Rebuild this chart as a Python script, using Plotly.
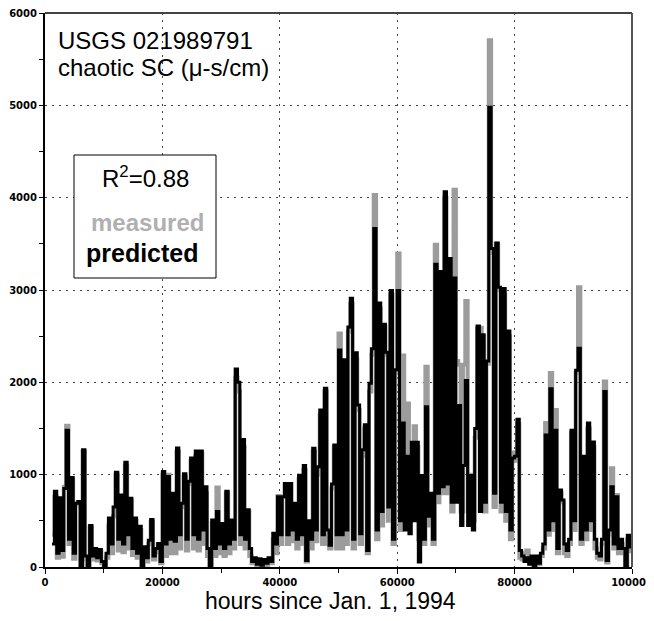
import plotly.graph_objects as go

# hours since Jan. 1, 1994 (sampled every 400 h)
hours = list(range(1200, 99700, 400))

predicted = [
    # 1200 - 9600
    250, 820, 150, 750, 180, 850, 1480, 300, 970, 150, 690, 710, 0, 1270, 120, 0, 450, 120, 200, 100, 190, 60,
    # 10000 - 19600
    0, 150, 530, 250, 650, 1025, 300, 780, 250, 1135, 350, 745, 200, 530, 150, 440, 0, 220, 100, 290, 515, 120, 200, 255, 60,
    # 20000 - 29600
    1035, 250, 980, 300, 800, 280, 1290, 350, 690, 1010, 300, 930, 1180, 350, 1255, 300, 1255, 400, 870, 200, 0, 510, 200, 600, 250,
    # 30000 - 39600
    470, 200, 820, 250, 510, 300, 2145, 2000, 350, 1380, 300, 620, 200, 60, 100, 30, 90, 20, 80, 40, 100, 60, 365, 250, 760,
    # 40000 - 49600
    350, 760, 905, 350, 905, 400, 690, 300, 995, 350, 1100, 70, 500, 300, 1285, 400, 1085, 1700, 350, 1935, 400, 235, 900, 1320, 350,
    # 50000 - 59600
    2350, 350, 2245, 400, 2600, 2910, 300, 2320, 1755, 360, 1270, 1540, 180, 1990, 2365, 3665, 400, 2860, 600, 2630, 2325, 650, 2995, 300, 2135,
    # 60000 - 69600
    2995, 500, 1560, 400, 1200, 360, 1350, 500, 1350, 55, 990, 300, 1735, 550, 800, 300, 3280, 800, 3200, 870, 4065, 900, 3340, 700, 3130,
    # 70000 - 79600
    700, 1750, 450, 1100, 2020, 450, 990, 400, 1500, 2610, 600, 2515, 700, 2230, 4980, 3450, 800, 3510, 3030, 700, 3015, 600, 2555, 400, 1180,
    # 80000 - 89600
    1200, 1600, 180, 120, 60, 100, 30, 120, 0, 120, 40, 150, 250, 1430, 400, 1930, 500, 1480, 200, 835, 725, 250, 180, 300, 1480,
    # 90000 - 99600
    500, 2130, 2370, 300, 1200, 400, 1560, 500, 1355, 300, 150, 120, 300, 1900, 70, 400, 870, 250, 760, 200, 300, 200, 0, 345, 200,
]

measured = [
    # 1200 - 9600
    350, 760, 100, 700, 110, 870, 1530, 250, 950, 90, 680, 700, 0, 1250, 80, 0, 430, 80, 180, 70, 170, 40,
    # 10000 - 19600
    0, 100, 450, 150, 550, 1000, 180, 700, 160, 1100, 200, 720, 130, 500, 100, 400, 0, 180, 60, 250, 490, 80, 160, 240, 40,
    # 20000 - 29600
    1000, 120, 1000, 150, 780, 150, 1250, 200, 650, 980, 180, 900, 1150, 200, 1200, 180, 1230, 250, 800, 120, 0, 480, 120, 860, 150,
    # 30000 - 39600
    420, 120, 800, 150, 450, 200, 2050, 1900, 250, 1300, 200, 600, 120, 40, 60, 10, 50, 0, 60, 20, 80, 40, 300, 150, 770,
    # 40000 - 49600
    250, 760, 900, 250, 900, 280, 650, 200, 950, 250, 1050, 60, 400, 200, 1250, 280, 1000, 1650, 250, 1900, 250, 200, 850, 1300, 200,
    # 50000 - 59600
    2530, 200, 2200, 250, 2550, 2850, 200, 2250, 1700, 250, 1200, 1500, 150, 1900, 2300, 4030, 300, 2800, 450, 2600, 2300, 500, 2950, 250, 2100,
    # 60000 - 69600
    3395, 400, 2290, 500, 1770, 500, 1300, 1525, 1300, 300, 900, 250, 2170, 450, 700, 250, 3490, 700, 3150, 800, 4000, 800, 3300, 600, 4085,
    # 70000 - 79600
    2230, 2190, 600, 2190, 2880, 600, 1000, 500, 1400, 2580, 2590, 2500, 600, 2200, 5705, 3400, 650, 3500, 3000, 600, 2950, 500, 2500, 300, 1240,
    # 80000 - 89600
    1150, 1550, 100, 80, 150, 180, 60, 80, 0, 100, 30, 120, 200, 1560, 350, 2100, 400, 1700, 150, 800, 700, 150, 120, 250, 1450,
    # 90000 - 99600
    400, 2100, 3030, 250, 1150, 300, 1500, 400, 1300, 200, 100, 80, 250, 2010, 50, 350, 1070, 200, 780, 150, 250, 150, 0, 300, 150,
]

x_ticks = [0, 20000, 40000, 60000, 80000, 100000]
y_ticks = [0, 1000, 2000, 3000, 4000, 5000, 6000]

fig = go.Figure()
fig.add_trace(go.Scatter(x=hours, y=measured, mode="lines", line=dict(color="#9c9c9c", width=4, shape="hv"),
                         name="measured", hoverinfo="skip"))
fig.add_trace(go.Scatter(x=hours, y=predicted, mode="lines", line=dict(color="#000000", width=3, shape="hv"),
                         name="predicted", hoverinfo="skip"))

common = dict(showgrid=True, gridcolor="#444444", griddash="2px,5px", gridwidth=1,
              showline=True, linecolor="black", linewidth=2, ticks="outside",
              tickcolor="black", tickwidth=1, zeroline=False, automargin=False,
              ticklabeloverflow="allow")
fig.update_xaxes(range=[0, 100000], tickvals=x_ticks, ticktext=[str(v) for v in x_ticks], ticklen=5,
                 tickfont=dict(family="DejaVu Sans", size=10, color="black", weight="bold"),
                 minor=dict(dtick=10000, ticks="outside", ticklen=4, tickcolor="black", showgrid=False),
                 **common)
fig.update_yaxes(range=[0, 6000], tickvals=y_ticks, ticktext=[str(v) for v in y_ticks], ticklen=4,
                 tickfont=dict(family="DejaVu Sans", size=10, color="black", weight="bold"),
                 minor=dict(dtick=500, ticks="outside", ticklen=4, tickcolor="black", showgrid=False),
                 **common)

# top / right frame in dark gray
fig.add_shape(type="line", xref="paper", yref="paper", x0=0, x1=1, y0=1, y1=1,
              line=dict(color="#444444", width=2))
fig.add_shape(type="line", xref="paper", yref="paper", x0=1, x1=1, y0=0, y1=1,
              line=dict(color="#555555", width=2))


def px(xp):
    return (xp - 45) / 587


def py(yp):
    return (567 - yp) / 554


# legend box
fig.add_shape(type="rect", xref="paper", yref="paper",
              x0=px(74), x1=px(216), y0=py(278), y1=py(155),
              line=dict(color="black", width=1), fillcolor="white")

big = dict(family="Arial", size=24, color="black")
fig.add_annotation(x=px(56), y=py(40), xref="paper", yref="paper", xanchor="left", yanchor="middle",
                   text="USGS 021989791", showarrow=False, font=big)
fig.add_annotation(x=px(56), y=py(68), xref="paper", yref="paper", xanchor="left", yanchor="middle",
                   text="chaotic SC (\u03bc-s/cm)", showarrow=False, font=big)
fig.add_annotation(x=px(145), y=py(177), xref="paper", yref="paper", xanchor="center", yanchor="middle",
                   text="R<sup>2</sup>=0.88", showarrow=False, font=dict(family="Arial", size=24, color="black"))
fig.add_annotation(x=px(147), y=py(222), xref="paper", yref="paper", xanchor="center", yanchor="middle",
                   text="<b>measured</b>", showarrow=False,
                   font=dict(family="Arial", size=24, color="#b0b0b0"))
fig.add_annotation(x=px(142), y=py(253), xref="paper", yref="paper", xanchor="center", yanchor="middle",
                   text="<b>predicted</b>", showarrow=False, font=dict(family="Arial", size=25, color="black"))
fig.add_annotation(x=px(330), y=py(601), xref="paper", yref="paper", xanchor="center", yanchor="middle",
                   text="hours since Jan. 1, 1994", showarrow=False,
                   font=dict(family="Arial", size=23, color="black"))

# the page body adds an 8px margin on every side, so the figure is sized to fit the window exactly
fig.update_layout(width=638, height=605, margin=dict(l=37, r=14, t=5, b=46, autoexpand=False),
                  paper_bgcolor="white", plot_bgcolor="white", showlegend=False)

fig.write_html("out.html")
